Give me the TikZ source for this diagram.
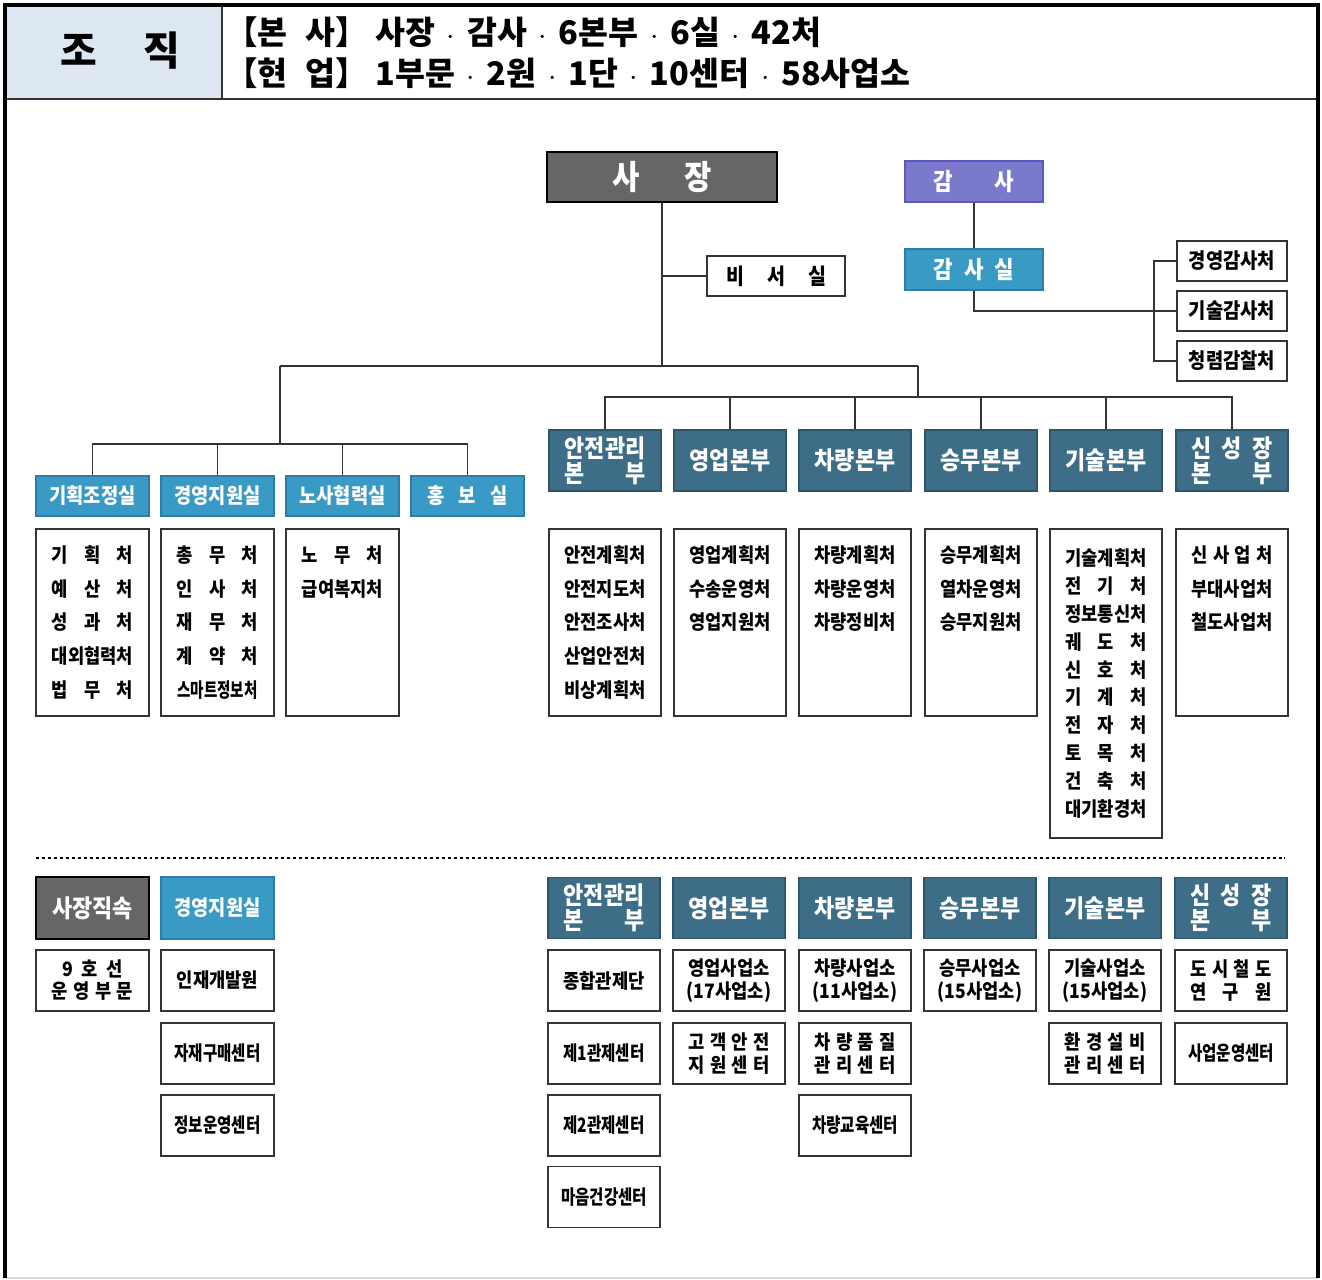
\documentclass[tikz,border=0pt]{standalone}
\usepackage{fontspec}
\usepackage{graphicx}
\usepackage{calc}
\setmainfont{Noto Sans CJK KR}[FakeStretch=0.89]
\newfontfamily\hdrfont{Noto Sans CJK KR}
\definecolor{hdrbg}{HTML}{DDE7F2}
\definecolor{chiefgray}{HTML}{666666}
\definecolor{audpurple}{HTML}{7B79CC}
\definecolor{audedge}{HTML}{5C5AC0}
\definecolor{offblue}{HTML}{3A9AC6}
\definecolor{offedge}{HTML}{2E7DA6}
\definecolor{hqteal}{HTML}{3E6E87}
\definecolor{hqedge}{HTML}{2C566B}
\definecolor{lnk}{HTML}{333333}
\newcommand{\spreadto}[2]{\makebox[#1][s]{#2}}
\newcommand{\spreadas}[2]{\makebox[\widthof{#1}][s]{#2}}
\newcommand{\narrow}[1]{\scalebox{0.88}[1]{#1}}
\newcommand{\gap}{\\\phantom{처}}
\newcommand{\dt}{\hspace{0.36em}$\cdot$\hspace{0.36em}}

\tikzset{
	base/.style={inner sep=0pt, align=center, font=\bfseries\fontsize{11.3}{19.3}\selectfont},
	unit/.style={base, draw=lnk, line width=1.1pt, fill=white, minimum width=2.24cm, minimum height=1.22cm},
	list/.style={unit, minimum height=3.74cm},
	chief/.style={base, draw=black, line width=1.4pt, fill=chiefgray, text=white},
	auditor/.style={base, draw=audedge, line width=1.1pt, fill=audpurple, text=white, font=\bfseries\fontsize{13.6}{13.6}\selectfont, minimum width=2.76cm, minimum height=0.82cm},
	office/.style={base, draw=offedge, line width=1.1pt, fill=offblue, text=white, font=\bfseries\fontsize{12}{12}\selectfont, minimum width=2.26cm, minimum height=0.8cm},
	hq/.style={base, draw=hqedge, line width=1.1pt, fill=hqteal, text=white, font=\bfseries\fontsize{14}{14}\selectfont, minimum width=2.24cm, minimum height=1.22cm},
	link/.style={draw=lnk, line width=1.1pt}
}

\begin{document}
\begin{tikzpicture}[x=0.02cm, y=-0.02cm]
	\useasboundingbox (0,0) rectangle (1322,1279);
	
	% frame and title row
	\fill[hdrbg] (5,5) rectangle (222,99);
	\draw[black!80, line width=0.6pt] (5,99) -- (1318,99);
	\draw[black!80, line width=0.6pt] (222,5) -- (222,99);
	\draw[black!15, line width=0.8pt] (5,1278) -- (1318,1278);
	\draw[black, line width=1.8pt] (5,1278) -- (5,5) -- (1318,5) -- (1318,1278);
	\node[font=\hdrfont\bfseries\fontsize{22.7}{22.7}\selectfont] (ttl) at (120,51) {\spreadto{2.4cm}{조 직}};
	\node[anchor=west, inner sep=0pt, font=\hdrfont\bfseries\fontsize{18.5}{18.5}\selectfont] (hq0) at (225,32) {【본\hspace{0.55em}사】 사장\dt 감사\dt 6본부\dt 6실\dt 42처};
	\node[anchor=west, inner sep=0pt, font=\hdrfont\bfseries\fontsize{18.5}{18.5}\selectfont] (ops0) at (225,73) {【현\hspace{0.55em}업】 1부문\dt 2원\dt 1단\dt 10센터\dt 58사업소};
	
	% top
	\node[chief, font=\bfseries\fontsize{19}{19}\selectfont, minimum width=4.6cm, minimum height=1cm] (pres) at (662,177) {\spreadto{2cm}{사 장}};
	\node[auditor] (aud) at (974,181.5) {\spreadto{1.62cm}{감 사}};
	\node[office, font=\bfseries\fontsize{13.6}{13.6}\selectfont, minimum width=2.76cm, minimum height=0.82cm] (audoff) at (974,269.5) {\spreadto{1.62cm}{감 사 실}};
	\node[unit, font=\bfseries\fontsize{12.5}{12.5}\selectfont, minimum width=2.76cm, minimum height=0.8cm] (sec) at (776,276) {\spreadto{2cm}{비 서 실}};
	\node[unit, font=\bfseries\fontsize{12}{12}\selectfont, minimum width=2.2cm, minimum height=0.8cm] (aud1) at (1232,261) {경영감사처};
	\node[unit, font=\bfseries\fontsize{12}{12}\selectfont, minimum width=2.2cm, minimum height=0.8cm] (aud2) at (1232,311) {기술감사처};
	\node[unit, font=\bfseries\fontsize{12}{12}\selectfont, minimum width=2.2cm, minimum height=0.8cm] (aud3) at (1232,361) {청렴감찰처};
	
	% staff offices
	\node[office] (plan) at (92.5,496) {기획조정실};
	\node[office] (mgmt) at (217.5,496) {경영지원실};
	\node[office] (labor) at (342.5,496) {노사협력실};
	\node[office] (pr) at (467.5,496) {\spreadto{1.6cm}{홍 보 실}};
	
	\node[list, minimum width=2.26cm] (planl) at (92.5,622.5) {\spreadas{대외협력처}{기 획 처}\\\spreadas{대외협력처}{예 산 처}\\\spreadas{대외협력처}{성 과 처}\\대외협력처\\\spreadas{대외협력처}{법 무 처}};
	\node[list, minimum width=2.26cm] (mgmtl) at (217.5,622.5) {\spreadas{대외협력처}{총 무 처}\\\spreadas{대외협력처}{인 사 처}\\\spreadas{대외협력처}{재 무 처}\\\spreadas{대외협력처}{계 약 처}\\\scalebox{0.82}[1]{스마트정보처}};
	\node[list, minimum width=2.26cm] (laborl) at (342.5,622.5) {\spreadas{급여복지처}{노 무 처}\\급여복지처\gap\gap\gap};
	
	% headquarters
	\node[hq] (safe) at (605,460.5) {안전관리\\\spreadas{안전관리}{본 부}};
	\node[hq] (sales) at (730,460.5) {영업본부};
	\node[hq] (car) at (855,460.5) {차량본부};
	\node[hq] (crew) at (981,460.5) {승무본부};
	\node[hq] (tech) at (1106,460.5) {기술본부};
	\node[hq] (grow) at (1232,460.5) {\spreadas{안전관리}{신 성 장}\\\spreadas{안전관리}{본 부}};
	
	\node[list] (safel) at (605,622.5) {안전계획처\\안전지도처\\안전조사처\\산업안전처\\비상계획처};
	\node[list] (salesl) at (730,622.5) {영업계획처\\수송운영처\\영업지원처\gap\gap};
	\node[list] (carl) at (855,622.5) {차량계획처\\차량운영처\\차량정비처\gap\gap};
	\node[list] (crewl) at (981,622.5) {승무계획처\\열차운영처\\승무지원처\gap\gap};
	\node[list, minimum height=6.18cm, font=\bfseries\fontsize{11.3}{15.9}\selectfont] (techl) at (1106,683.5) {기술계획처\\\spreadas{기술계획처}{전 기 처}\\정보통신처\\\spreadas{기술계획처}{궤 도 처}\\\spreadas{기술계획처}{신 호 처}\\\spreadas{기술계획처}{기 계 처}\\\spreadas{기술계획처}{전 자 처}\\\spreadas{기술계획처}{토 목 처}\\\spreadas{기술계획처}{건 축 처}\\대기환경처};
	\node[list] (growl) at (1232,622.5) {\spreadas{부대사업처}{신 사 업 처}\\부대사업처\\철도사업처\gap\gap};
	
	% lines
	\coordinate (mid) at (662,366);
	\coordinate (lbus) at (280,366);
	\coordinate (rbus) at (918,366);
	\coordinate (sbus) at (280,444);
	\coordinate (hbus) at (918,397);
	\coordinate (abr) at (1154,261);
	\draw[link] (pres.south) -- (mid);
	\draw[link] (sec.west) -- (sec.west -| mid);
	\draw[link] (lbus) -- (rbus);
	\draw[link] (lbus) -- (sbus);
	\draw[link] (rbus) -- (hbus);
	\draw[link] (plan.north) |- (sbus) -| (pr.north);
	\draw[link] (mgmt.north) -- (mgmt.north |- sbus);
	\draw[link] (labor.north) -- (labor.north |- sbus);
	\draw[link] (safe.north) |- (hbus) -| (grow.north);
	\draw[link] (sales.north) -- (sales.north |- hbus);
	\draw[link] (car.north) -- (car.north |- hbus);
	\draw[link] (crew.north) -- (crew.north |- hbus);
	\draw[link] (tech.north) -- (tech.north |- hbus);
	\draw[link] (aud) -- (audoff);
	\draw[link] (audoff.south) |- (aud2.west);
	\draw[link] (aud1.west) -- (abr) |- (aud3.west);
	
	% field organisation
	\draw[black, line width=1.6pt, dash pattern=on 1.7pt off 1.7pt] (36,858) -- (1285,858);
	
	\node[chief, font=\bfseries\fontsize{14}{14}\selectfont, minimum width=2.26cm, minimum height=1.24cm] (direct) at (92.5,908) {사장직속};
	\node[office, minimum height=1.24cm] (mgmt2) at (217.5,908) {경영지원실};
	\node[unit, font=\bfseries\fontsize{11.3}{12.5}\selectfont, minimum width=2.26cm] (line9) at (92.5,980.5) {\spreadto{1.2cm}{9 호 선}\\\spreadas{대외협력처}{운 영 부 문}};
	\node[unit, minimum width=2.26cm] (edu) at (217.5,980.5) {인재개발원};
	\node[unit, minimum width=2.26cm] (buy) at (217.5,1053.5) {\narrow{자재구매센터}};
	\node[unit, minimum width=2.26cm] (info) at (217.5,1125.5) {\narrow{정보운영센터}};
	
	\node[hq] (safe2) at (604,908) {안전관리\\\spreadas{안전관리}{본 부}};
	\node[hq] (sales2) at (729,908) {영업본부};
	\node[hq] (car2) at (855,908) {차량본부};
	\node[hq] (crew2) at (980,908) {승무본부};
	\node[hq] (tech2) at (1105,908) {기술본부};
	\node[hq] (grow2) at (1231,908) {\spreadas{안전관리}{신 성 장}\\\spreadas{안전관리}{본 부}};
	
	\node[unit] (ctrl) at (604,980.5) {종합관제단};
	\node[unit] (ctrl1) at (604,1053.5) {\narrow{제1관제센터}};
	\node[unit] (ctrl2) at (604,1125.5) {\narrow{제2관제센터}};
	\node[unit] (mind) at (604,1197) {\narrow{마음건강센터}};
	\node[unit, font=\bfseries\fontsize{11.3}{13}\selectfont] (salesop) at (729,980.5) {영업사업소\\(17사업소)};
	\node[unit, font=\bfseries\fontsize{11.3}{13}\selectfont] (care) at (729,1053.5) {\spreadas{대외협력처}{고 객 안 전}\\\spreadas{대외협력처}{지 원 센 터}};
	\node[unit, font=\bfseries\fontsize{11.3}{13}\selectfont] (carop) at (855,980.5) {차량사업소\\(11사업소)};
	\node[unit, font=\bfseries\fontsize{11.3}{13}\selectfont] (carq) at (855,1053.5) {\spreadas{대외협력처}{차 량 품 질}\\\spreadas{대외협력처}{관 리 센 터}};
	\node[unit] (caredu) at (855,1125.5) {\narrow{차량교육센터}};
	\node[unit, font=\bfseries\fontsize{11.3}{13}\selectfont] (crewop) at (980,980.5) {승무사업소\\(15사업소)};
	\node[unit, font=\bfseries\fontsize{11.3}{13}\selectfont] (techop) at (1105,980.5) {기술사업소\\(15사업소)};
	\node[unit, font=\bfseries\fontsize{11.3}{13}\selectfont] (env) at (1105,1053.5) {\spreadas{대외협력처}{환 경 설 비}\\\spreadas{대외협력처}{관 리 센 터}};
	\node[unit, font=\bfseries\fontsize{11.3}{13}\selectfont] (lab) at (1231,980.5) {\spreadas{대외협력처}{도 시 철 도}\\\spreadas{대외협력처}{연 구 원}};
	\node[unit] (bizop) at (1231,1053.5) {\narrow{사업운영센터}};
	
\end{tikzpicture}
\end{document}
